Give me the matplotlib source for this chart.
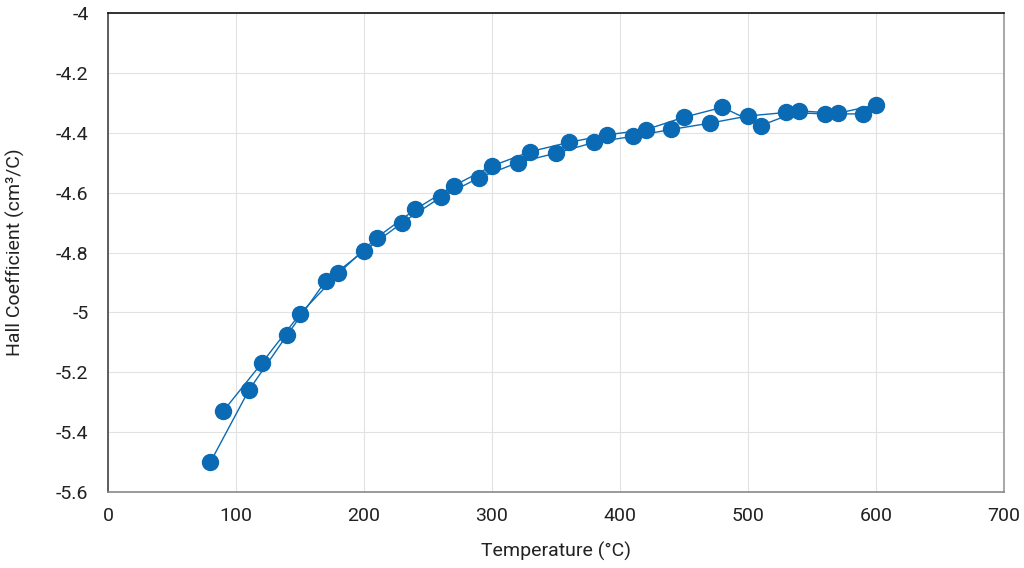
import matplotlib.pyplot as plt

# first run: 80, 110, 140 ... 590 C
temp_a = [80, 110, 140, 170, 200, 230, 260, 290, 320, 350, 380, 410, 440, 470, 500, 530, 560, 590]
hall_a = [-5.50, -5.26, -5.075, -4.895, -4.795, -4.70, -4.615, -4.55, -4.50, -4.468,
          -4.432, -4.412, -4.389, -4.368, -4.344, -4.332, -4.337, -4.337]

# second run: 90, 120, 150 ... 600 C
temp_b = [90, 120, 150, 180, 210, 240, 270, 300, 330, 360, 390, 420, 450, 480, 510, 540, 570, 600]
hall_b = [-5.33, -5.17, -5.005, -4.87, -4.75, -4.656, -4.577, -4.511, -4.463, -4.432,
          -4.407, -4.39, -4.348, -4.315, -4.376, -4.327, -4.335, -4.307]

x_ticks = [0, 100, 200, 300, 400, 500, 600, 700]
y_ticks = [-5.6, -5.4, -5.2, -5.0, -4.8, -4.6, -4.4, -4.2, -4.0]
y_labels = ['-5.6', '-5.4', '-5.2', '-5', '-4.8', '-4.6', '-4.4', '-4.2', '-4']

plt.rcParams['font.family'] = ['Roboto', 'DejaVu Sans']

fig = plt.figure(figsize=(10.24, 5.68), dpi=100)
ax = fig.add_axes([0.1055, 0.1338, 0.875, 0.8433])

blue = '#0a6ab4'
for tx, hy in [(temp_a, hall_a), (temp_b, hall_b)]:
    ax.plot(tx, hy, color=blue, linewidth=1.0, marker='o', markersize=11.5,
            markerfacecolor=blue, markeredgecolor=blue, zorder=3)

ax.set_xlim(0, 700)
ax.set_ylim(-5.6, -4.0)
ax.set_xticks(x_ticks)
ax.set_yticks(y_ticks)
ax.set_yticklabels(y_labels)
ax.tick_params(axis='both', length=0, labelsize=14, colors='#222222')
ax.tick_params(axis='y', pad=14)
ax.tick_params(axis='x', pad=11)
ax.grid(True, color='#e2e2e2', linewidth=0.8)
ax.set_axisbelow(True)

ax.spines['top'].set_color('#111111')
ax.spines['left'].set_color('#444444')
ax.spines['right'].set_color('#999999')
ax.spines['bottom'].set_color('#888888')
for s in ax.spines.values():
    s.set_linewidth(1.2)

ax.set_xlabel('Temperature (°C)', fontsize=14, labelpad=12, color='#222222')
ax.set_ylabel('Hall Coefficient (cm³/C)', fontsize=14, labelpad=22, color='#222222')

fig.savefig('out.png', dpi=100)
